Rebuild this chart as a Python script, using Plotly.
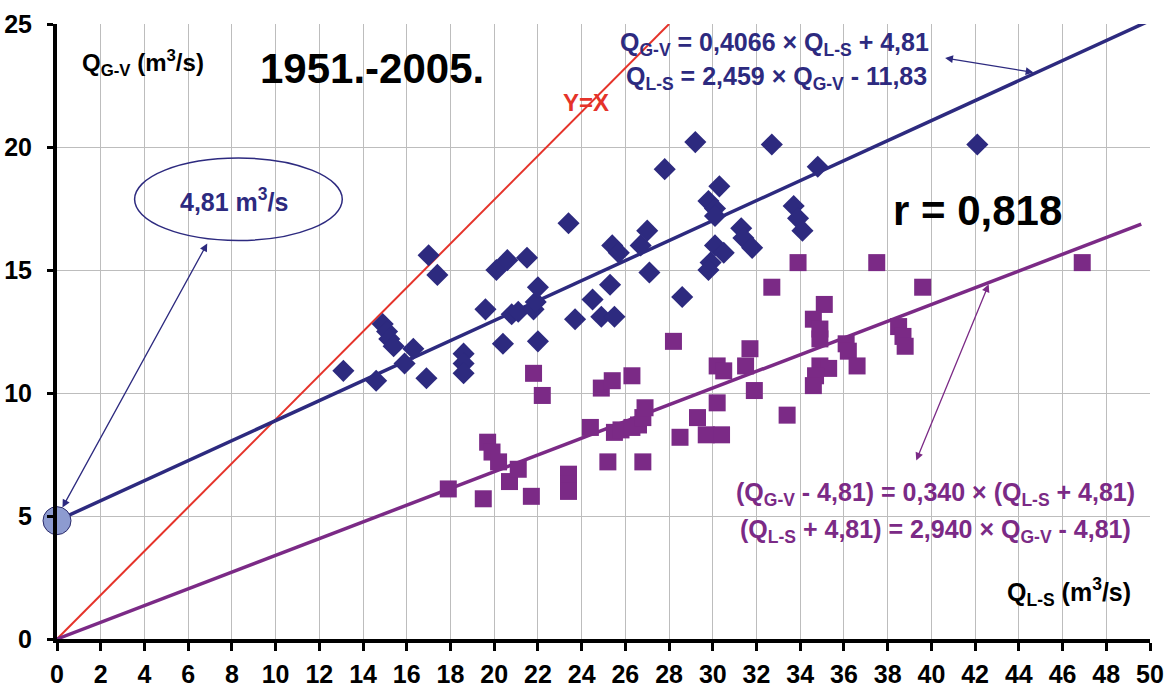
import plotly.graph_objects as go

# Q_L-S (x) and Q_G-V (y), annual values 1951-2005, m3/s
gv_x = [13.1, 14.6, 14.9, 15.1, 15.2, 15.4, 15.9, 16.3, 16.9, 17.0, 17.4, 18.6, 18.6, 18.6,
        19.6, 20.1, 20.6, 21.5, 20.4, 20.8, 21.1, 21.8, 21.9, 22.0, 22.0, 23.4, 23.7, 24.5,
        24.9, 25.5, 25.3, 25.4, 25.7, 26.7, 27.0, 27.1, 27.8, 28.6, 29.2, 29.8, 30.1, 30.1,
        30.3, 29.9, 29.8, 30.1, 30.5, 31.3, 31.4, 31.8, 32.7, 33.7, 33.9, 34.1, 34.8, 42.1]
gv_y = [10.9, 10.5, 12.8, 12.5, 12.2, 11.9, 11.2, 11.8, 10.6, 15.6, 14.8, 11.6, 11.2, 10.8,
        13.4, 15.0, 15.4, 15.5, 12.0, 13.2, 13.3, 13.4, 13.7, 14.3, 12.1, 16.9, 13.0, 13.8,
        13.1, 13.1, 14.4, 16.0, 15.7, 16.0, 16.6, 14.9, 19.1, 13.9, 20.2, 17.8, 17.5, 17.2,
        18.4, 15.3, 15.0, 16.0, 15.7, 16.7, 16.3, 15.9, 20.1, 17.6, 17.1, 16.6, 19.2, 20.1]

# Shifted series: (Q_G-V - 4,81) against (Q_L-S + 4,81)
sh_x = [17.9, 19.5, 19.7, 19.9, 20.2, 20.7, 21.1, 21.7, 21.8, 22.2, 23.4, 23.4, 23.4, 24.4,
        24.9, 25.4, 26.3, 25.2, 25.5, 25.8, 26.3, 26.6, 26.8, 26.9, 26.8, 28.2, 28.5, 29.3,
        29.7, 30.2, 30.5, 30.2, 30.4, 31.7, 31.5, 31.9, 33.4, 32.7, 33.9, 37.5, 35.1, 34.6,
        34.9, 34.9, 36.1, 36.2, 36.6, 34.9, 35.3, 34.7, 34.6, 39.6, 38.5, 38.7, 38.8, 46.9]
sh_y = [6.1, 5.7, 8.0, 7.6, 7.2, 6.4, 6.9, 5.8, 10.8, 9.9, 6.7, 6.3, 6.0, 8.6,
        10.2, 10.5, 10.7, 7.2, 8.4, 8.5, 8.6, 8.7, 9.0, 9.4, 7.2, 12.1, 8.2, 9.0,
        8.3, 11.1, 10.9, 9.6, 8.3, 11.8, 11.1, 10.1, 9.1, 14.3, 15.3, 15.3, 13.6, 13.0,
        12.6, 12.2, 12.0, 11.7, 11.1, 11.1, 11.0, 10.7, 10.3, 14.3, 12.7, 12.3, 11.9, 15.3]

# Regression lines
slope_gv, icpt_gv = 0.4066, 4.81
slope_sh = 0.340
reg_x_end = 50.0
sh_x_end = 49.6
# Reference line labelled Y=X, as drawn
ref_x = [0, 28.0]
ref_y = [0, 25.0]

x_ticks = list(range(0, 51, 2))
y_ticks = [0, 5, 10, 15, 20, 25]

NAVY = "#2D2A7F"
PURPLE = "#7B2A86"
RED = "#E5332A"
FONT = "Arial, Liberation Sans, sans-serif"

fig = go.Figure()

fig.add_trace(go.Scatter(x=ref_x, y=ref_y, mode="lines",
                         line=dict(color=RED, width=2), showlegend=False))
fig.add_trace(go.Scatter(x=[0, reg_x_end],
                         y=[icpt_gv, icpt_gv + slope_gv * reg_x_end], mode="lines",
                         line=dict(color=NAVY, width=3.5), showlegend=False))
fig.add_trace(go.Scatter(x=[0, sh_x_end], y=[0, slope_sh * sh_x_end], mode="lines",
                         line=dict(color=PURPLE, width=3.5), showlegend=False))
fig.add_trace(go.Scatter(x=sh_x, y=sh_y, mode="markers",
                         marker=dict(symbol="square", size=17, color=PURPLE),
                         showlegend=False))
fig.add_trace(go.Scatter(x=gv_x, y=gv_y, mode="markers",
                         marker=dict(symbol="diamond", size=17, color=NAVY),
                         showlegend=False))
# Intercept marker on the y axis
fig.add_trace(go.Scatter(x=[0], y=[icpt_gv], mode="markers", cliponaxis=False,
                         marker=dict(symbol="circle", size=28, color="#8D9BD0",
                                     line=dict(color="#2A2A6A", width=1)),
                         showlegend=False))

# Ellipse around the intercept label
fig.add_shape(type="circle", xref="x", yref="y", x0=3.55, x1=13.05, y0=16.2, y1=19.55,
              line=dict(color=NAVY, width=1.5), fillcolor="rgba(0,0,0,0)")

ann = []
def text(x, y, s, size, color="black", **kw):
    ann.append(dict(x=x, y=y, xref="x", yref="y", text=s, showarrow=False,
                    font=dict(family=FONT, size=size, color=color), **kw))

text(3.95, 23.4, "<b>Q<sub>G-V</sub> (m<sup>3</sup>/s)</b>", 24)
text(14.4, 23.2, "<b>1951.-2005.</b>", 42)
text(24.2, 21.8, "<b>Y=X</b>", 24, RED)
text(8.1, 17.85, "<b>4,81 m<sup>3</sup>/s</b>", 25, NAVY)
text(42.1, 17.4, "<b>r = 0,818</b>", 42)
text(32.8, 24.2, "<b>Q<sub>G-V</sub> = 0,4066 × Q<sub>L-S</sub> + 4,81</b>", 25, NAVY)
text(32.9, 22.8, "<b>Q<sub>L-S</sub> = 2,459 × Q<sub>G-V</sub> - 11,83</b>", 25, NAVY)
text(40.2, 5.9, "<b>(Q<sub>G-V</sub> - 4,81) = 0,340 × (Q<sub>L-S</sub> + 4,81)</b>", 25, PURPLE)
text(40.2, 4.4, "<b>(Q<sub>L-S</sub> + 4,81) = 2,940 × Q<sub>G-V</sub> - 4,81)</b>", 25, PURPLE)
text(46.3, 1.9, "<b>Q<sub>L-S</sub> (m<sup>3</sup>/s)</b>", 25)

def arrow(x0, y0, x1, y1, color):
    ann.append(dict(x=x1, y=y1, ax=x0, ay=y0, xref="x", yref="y", axref="x", ayref="y",
                    text="", showarrow=True, arrowhead=2, startarrowhead=2,
                    arrowside="end+start", arrowsize=1.2, startarrowsize=1.2,
                    arrowwidth=1.3, arrowcolor=color))

arrow(40.56, 23.63, 44.67, 23.03, NAVY)
arrow(6.91, 16.14, 0.25, 5.35, NAVY)
arrow(39.28, 7.2, 42.62, 14.42, PURPLE)

fig.update_layout(
    width=1170, height=690,
    margin=dict(l=57, r=20, t=24, b=51),
    paper_bgcolor="white", plot_bgcolor="white",
    font=dict(family=FONT, size=25, color="black"),
    annotations=ann,
    xaxis=dict(range=[0, 50], tickvals=x_ticks, ticktext=[f"<b>{v}</b>" for v in x_ticks],
               showgrid=True, gridcolor="#BDBDBD", gridwidth=1, zeroline=False,
               showline=True, linecolor="black", linewidth=4,
               ticks="outside", ticklen=8, tickwidth=3, tickcolor="black",
               tickfont=dict(size=25, family=FONT), automargin=False,
               ticklabelstandoff=2),
    yaxis=dict(range=[0, 25], tickvals=y_ticks, ticktext=[f"<b>{v}</b>" for v in y_ticks],
               showgrid=True, gridcolor="#BDBDBD", gridwidth=1, zeroline=False,
               showline=True, linecolor="black", linewidth=4,
               ticks="outside", ticklen=6, tickwidth=3, tickcolor="black",
               tickfont=dict(size=25, family=FONT), automargin=False,
               ticklabelstandoff=10),
)

fig.write_html("out.html")
